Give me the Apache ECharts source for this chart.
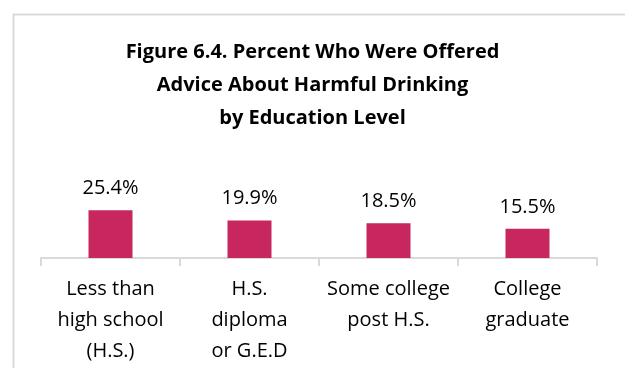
<!DOCTYPE html>
<html>
<head>
<meta charset="utf-8">
<script src="https://cdn.jsdelivr.net/npm/echarts@6/dist/echarts.min.js"></script>
<style>
  html, body { margin: 0; padding: 0; background: #fff; }
  #chart { width: 625px; height: 368px; }
</style>
</head>
<body>
<div id="chart"></div>
<script>
// Education levels and the share offered advice (%)
const categories = [
  'Less than\nhigh school\n(H.S.)',
  'H.S.\ndiploma\nor G.E.D',
  'Some college\npost H.S.',
  'College\ngraduate'
];
const percentOffered = [25.4, 19.9, 18.5, 15.5];
const titleText = 'Figure 6.4. Percent Who Were Offered\nAdvice About Harmful Drinking\nby Education Level';

const FONT = 'Open Sans';
const chart = echarts.init(document.getElementById('chart'), null, { renderer: 'canvas' });

chart.setOption({
  animation: false,
  backgroundColor: '#ffffff',
  title: {
    text: titleText,
    left: 'center',
    top: 31,
    textStyle: {
      fontFamily: FONT,
      fontSize: 20,
      fontWeight: 'bold',
      color: '#000000',
      lineHeight: 33
    }
  },
  graphic: [{
    type: 'rect',
    left: 11,
    top: 12,
    shape: { width: 700, height: 400 },
    style: { fill: 'none', stroke: '#d9d9d9', lineWidth: 2 },
    silent: true
  }],
  grid: { left: 41, right: 28, top: 145, bottom: 110, containLabel: false },
  xAxis: {
    type: 'category',
    data: categories,
    axisLine: { lineStyle: { color: '#d9d9d9', width: 2 } },
    axisTick: { show: true, length: 8, alignWithLabel: false, lineStyle: { color: '#d9d9d9', width: 2 } },
    axisLabel: {
      interval: 0,
      margin: 16,
      fontFamily: FONT,
      fontSize: 20,
      lineHeight: 31,
      color: '#000000'
    }
  },
  yAxis: {
    type: 'value',
    min: 0,
    max: 60,
    show: false,
    splitLine: { show: false }
  },
  series: [{
    type: 'bar',
    data: percentOffered,
    barWidth: 44,
    itemStyle: { color: '#c8265e' },
    label: {
      show: true,
      position: 'top',
      distance: 12,
      formatter: p => p.value.toFixed(1) + '%',
      fontFamily: FONT,
      fontSize: 20,
      color: '#000000'
    }
  }]
});
</script>
</body>
</html>
